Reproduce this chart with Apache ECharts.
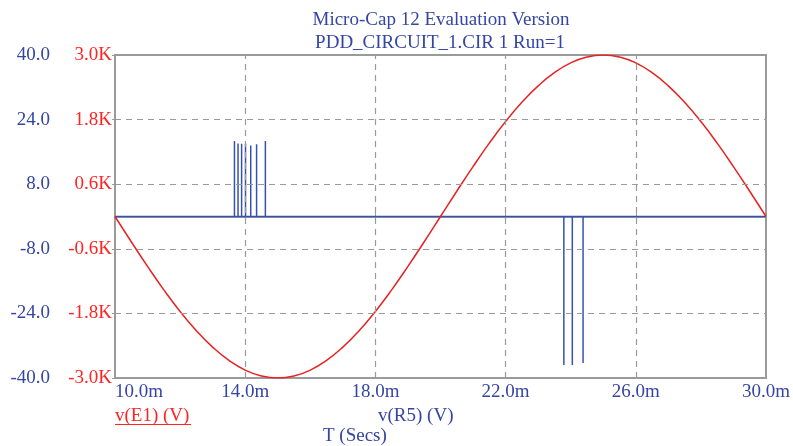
<!DOCTYPE html>
<html>
<head>
<meta charset="utf-8">
<script src="https://cdn.jsdelivr.net/npm/echarts@6/dist/echarts.min.js"></script>
<style>html,body{margin:0;padding:0;background:#fff}#c{width:793px;height:446px}</style>
</head>
<body>
<div id="c"></div>
<script>
// Time axis (ms)
const timeMs = [10.0,10.5,11.0,11.5,12.0,12.5,13.0,13.5,14.0,14.5,15.0,15.5,16.0,16.5,17.0,17.5,18.0,18.5,19.0,19.5,20.0,20.5,21.0,21.5,22.0,22.5,23.0,23.5,24.0,24.5,25.0,25.5,26.0,26.5,27.0,27.5,28.0,28.5,29.0,29.5,30.0];
// v(E1) (V)
const vE1 = [0,-469,-927,-1362,-1763,-2121,-2427,-2673,-2853,-2963,-3000,-2963,-2853,-2673,-2427,-2121,-1763,-1362,-927,-469,0,469,927,1362,1763,2121,2427,2673,2853,2963,3000,2963,2853,2673,2427,2121,1763,1362,927,469,0];
// v(R5) (V) pulses: times (ms) and peak values
const pulseTimes = [13.67,13.78,13.89,14.01,14.17,14.35,14.62,23.79,24.05,24.38];
const pulsePeaks = [18.7,18.1,18.0,18.0,17.6,17.9,18.7,-36.8,-36.8,-36.3];
// tick values
const xTicks = [10,14,18,22,26,30];
const leftTicks = [-40,-24,-8,8,24,40];
const redTicks = [-3000,-1800,-600,600,1800,3000];
const xGrid = [14,18,22,26];
const yGridRed = [-1800,-600,600,1800];

const BLUE_T = '#3545a3', RED_T = '#ff2424', BLUE_L = '#3652b0', RED_L = '#e82222', GRAY = '#9a9a9a';
const FONT = 'Liberation Serif';

const redData = timeMs.map((t, i) => [t, vE1[i]]);
const blueData = [[10, 0]];
pulseTimes.forEach((t, i) => { blueData.push([t, 0], [t, pulsePeaks[i]], [t, 0]); });
blueData.push([30, 0]);

const chart = echarts.init(document.getElementById('c'), null, {renderer: 'canvas'});
chart.setOption({
  animation: false,
  backgroundColor: '#fff',
  grid: {left: 115, right: 26, top: 55, bottom: 68, show: true, borderColor: GRAY, borderWidth: 2, backgroundColor: 'transparent'},
  xAxis: {
    type: 'value', min: 10, max: 30,
    axisLine: {show: true, lineStyle: {color: GRAY, width: 2}},
    axisTick: {show: true, inside: true, length: 4, customValues: xTicks, lineStyle: {color: GRAY}},
    splitLine: {show: false},
    axisLabel: {customValues: xTicks, margin: 5, color: BLUE_T, fontFamily: FONT, fontSize: 19,
      alignMinLabel: 'left', formatter: v => v.toFixed(1) + 'm'}
  },
  yAxis: [
    {
      type: 'value', min: -40, max: 40, position: 'left', offset: 62,
      axisLine: {show: false}, axisTick: {show: false}, splitLine: {show: false},
      axisLabel: {customValues: leftTicks, margin: 3, color: BLUE_T, fontFamily: FONT, fontSize: 19,
        formatter: v => v.toFixed(1)}
    },
    {
      type: 'value', min: -3000, max: 3000, position: 'left', offset: 0,
      axisLine: {show: true, lineStyle: {color: GRAY, width: 2}},
      axisTick: {show: true, length: 3, customValues: redTicks, lineStyle: {color: GRAY}},
      splitLine: {show: false},
      axisLabel: {customValues: redTicks, margin: 3, color: RED_T, fontFamily: FONT, fontSize: 19,
        formatter: v => (v / 1000).toFixed(1) + 'K'}
    }
  ],
  series: [
    {
      name: 'grid', type: 'line', yAxisIndex: 1, data: [], z: 1, silent: true,
      markLine: {
        silent: true, symbol: 'none', animation: false,
        label: {show: false},
        lineStyle: {color: GRAY, type: [6, 5], width: 1.2},
        data: xGrid.map(v => ({xAxis: v})).concat(yGridRed.map(v => ({yAxis: v})))
      }
    },
    {
      name: 'v(R5)', type: 'line', yAxisIndex: 0, data: blueData, showSymbol: false, z: 3,
      lineStyle: {color: BLUE_L, width: 1.5}
    },
    {
      name: 'v(E1)', type: 'line', yAxisIndex: 1, data: redData, showSymbol: false, smooth: true, z: 4,
      lineStyle: {color: RED_L, width: 1.5}
    }
  ],
  graphic: [
    {type: 'text', x: 441, y: 20, style: {text: 'Micro-Cap 12 Evaluation Version', fill: BLUE_T, font: '19px "Liberation Serif"', textAlign: 'center', textVerticalAlign: 'middle'}},
    {type: 'text', x: 440, y: 43, style: {text: 'PDD_CIRCUIT_1.CIR 1 Run=1', fill: BLUE_T, font: '19px "Liberation Serif"', textAlign: 'center', textVerticalAlign: 'middle'}},
    {type: 'text', x: 115, y: 416, style: {text: 'v(E1) (V)', fill: RED_T, font: '19px "Liberation Serif"', textAlign: 'left', textVerticalAlign: 'middle'}},
    {type: 'line', shape: {x1: 115, y1: 424.5, x2: 191, y2: 424.5}, style: {stroke: RED_T, lineWidth: 1}},
    {type: 'text', x: 378, y: 416, style: {text: 'v(R5) (V)', fill: BLUE_T, font: '19px "Liberation Serif"', textAlign: 'left', textVerticalAlign: 'middle'}},
    {type: 'text', x: 323, y: 436, style: {text: 'T (Secs)', fill: BLUE_T, font: '19px "Liberation Serif"', textAlign: 'left', textVerticalAlign: 'middle'}}
  ]
});
</script>
</body>
</html>
